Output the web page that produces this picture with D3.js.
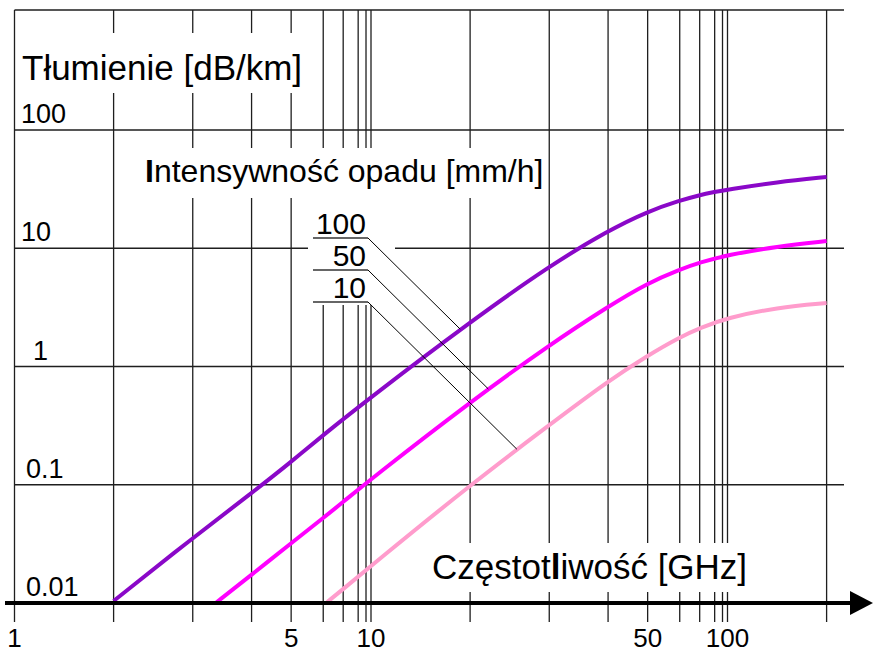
<!DOCTYPE html>
<html>
<head>
<meta charset="utf-8">
<script src="https://cdn.jsdelivr.net/npm/d3@7"></script>
<style>
  body { margin: 0; background: #fff; }
  svg { display: block; font-family: "Liberation Sans", Arial, sans-serif; }
</style>
</head>
<body>
<div class="chart"></div>
<script>
var svgWidth = 873;
var svgHeight = 653;

// frequency grid [GHz] and attenuation grid [dB/km]
var gridFreqs = [1, 2, 3, 4, 5, 6, 7, 8, 9, 10, 20, 30, 40, 50, 60, 70, 80, 90, 100, 200];
var freqTicks = [1, 5, 10, 50, 100];
var attTicks = [0.01, 0.1, 1, 10, 100];
var attTickLabels = ["0.01", "0.1", "1", "10", "100"];

// rain rates [mm/h]
var rainRates = ["100", "50", "10"];

// curve readings: frequency [GHz] -> attenuation [dB/km]
var freq100 = [2, 3, 4, 5, 6, 10, 20, 30, 40, 50, 60, 70, 80, 100, 150, 200];
var att100 = [0.0104, 0.0355, 0.085, 0.156, 0.264, 0.552, 2.38, 7.08, 14.1, 20.5, 25.3, 28.2, 29.9, 31.4, 36.3, 40.1];

var freq50 = [3.4, 4, 5, 6, 7, 10, 20, 30, 40, 50, 60, 70, 100, 150, 200];
var att50 = [0.0101, 0.0173, 0.0321, 0.0524, 0.0715, 0.112, 0.501, 1.52, 3.22, 5.08, 6.61, 7.57, 8.77, 10.35, 11.5];

var freq10 = [6.2, 7, 10, 20, 30, 40, 50, 60, 70, 100, 150, 200];
var att10 = [0.0102, 0.0131, 0.0206, 0.0995, 0.320, 0.753, 1.24, 1.77, 2.12, 2.58, 3.16, 3.44];

// points where the legend leaders touch each curve
var leaderFreq = [19, 22.3, 25.9];
var leaderAtt = [2.07, 0.646, 0.200];

var colors = ["#8a08c8", "#ff00ff", "#ff9ccc"];

// the printed grid is not a true log grid: position of 1..10 inside one decade
var decadeFrac = [0, 0.278, 0.5, 0.665, 0.776, 0.866, 0.922, 0.964, 0.986, 1];

function gridUnit(v) {
  var d = Math.floor(Math.log10(v) + 1e-9);
  var m = Math.round(v / Math.pow(10, d));
  return d + decadeFrac[m - 1];
}

var xWarp = d3.scaleLinear()
  .domain(gridFreqs)
  .range(gridFreqs.map(gridUnit));
var xPx = d3.scaleLinear().domain([0, 2]).range([14.5, 727.5]);
var x = function(v) { return xPx(xWarp(v)); };

var y = d3.scaleLog().domain([0.01, 100]).range([603, 130]);

var svg = d3.select(".chart")
  .append("svg")
  .attr("width", svgWidth)
  .attr("height", svgHeight);

var gridColor = "#1e1e1e";

// vertical grid
svg.append("g").selectAll("line")
  .data(gridFreqs)
  .enter()
  .append("line")
  .attr("x1", d => x(d))
  .attr("x2", d => x(d))
  .attr("y1", 10)
  .attr("y2", 622)
  .attr("stroke", gridColor)
  .attr("stroke-width", 1.3);

// horizontal grid + top border
svg.append("g").selectAll("line")
  .data(attTicks.slice(1))
  .enter()
  .append("line")
  .attr("x1", x(1))
  .attr("x2", 844)
  .attr("y1", d => y(d))
  .attr("y2", d => y(d))
  .attr("stroke", gridColor)
  .attr("stroke-width", 1.3);

svg.append("line")
  .attr("x1", x(1)).attr("x2", 844)
  .attr("y1", 10).attr("y2", 10)
  .attr("stroke", gridColor)
  .attr("stroke-width", 1.3);

// white patches behind the labels
var patches = [
  [18, 33, 292, 60],
  [140, 148, 408, 50],
  [308, 198, 87, 107],
  [425, 543, 328, 49]
];
svg.append("g").selectAll("rect")
  .data(patches)
  .enter()
  .append("rect")
  .attr("x", d => d[0])
  .attr("y", d => d[1])
  .attr("width", d => d[2])
  .attr("height", d => d[3])
  .attr("fill", "#fff");

// curves
var line = d3.line()
  .x(d => x(d[0]))
  .y(d => y(d[1]))
  .curve(d3.curveBasis);

var series = [
  d3.zip(freq100, att100),
  d3.zip(freq50, att50),
  d3.zip(freq10, att10)
];

svg.append("g").selectAll("path")
  .data(series)
  .enter()
  .append("path")
  .attr("d", line)
  .attr("fill", "none")
  .attr("stroke", (d, i) => colors[i])
  .attr("stroke-width", 4);

// x axis with arrow
svg.append("line")
  .attr("x1", 5).attr("x2", 856)
  .attr("y1", y(0.01)).attr("y2", y(0.01))
  .attr("stroke", "#000")
  .attr("stroke-width", 4);

svg.append("path")
  .attr("d", `M873,${y(0.01)} L850,${y(0.01) - 12} L850,${y(0.01) + 12} Z`)
  .attr("fill", "#000");

// tick labels
svg.append("g").selectAll("text")
  .data(freqTicks)
  .enter()
  .append("text")
  .attr("x", d => x(d))
  .attr("y", 647)
  .attr("text-anchor", "middle")
  .style("font-size", "26px")
  .text(d => d);

var yLabelX = [26, 26, 33, 21, 21];
svg.append("g").selectAll("text")
  .data(attTicks)
  .enter()
  .append("text")
  .attr("x", (d, i) => yLabelX[i])
  .attr("y", d => y(d) - 7)
  .style("font-size", "27px")
  .text((d, i) => attTickLabels[i]);

// axis titles
svg.append("text")
  .attr("x", 22)
  .attr("y", 80)
  .style("font-size", "35px")
  .text("Tłumienie [dB/km]");

var rainTitle = svg.append("text")
  .attr("x", 145)
  .attr("y", 182)
  .style("font-size", "32px");
rainTitle.append("tspan").attr("font-weight", "bold").text("I");
rainTitle.append("tspan").text("ntensywność opadu [mm/h]");

var freqTitle = svg.append("text")
  .attr("x", 432)
  .attr("y", 579)
  .style("font-size", "35px");
freqTitle.append("tspan").text("Częstot");
freqTitle.append("tspan").attr("font-weight", "bold").text("l");
freqTitle.append("tspan").text("iwość [GHz]");

// legend: rain rate labels with leader lines onto the curves
var legend = svg.append("g");
rainRates.forEach(function(r, i) {
  var ly = 238 + i * 32;
  legend.append("text")
    .attr("x", 366)
    .attr("y", ly - 4)
    .attr("text-anchor", "end")
    .style("font-size", "30px")
    .text(r);
  legend.append("line")
    .attr("x1", 313).attr("x2", 368)
    .attr("y1", ly).attr("y2", ly)
    .attr("stroke", "#333")
    .attr("stroke-width", 1.6);
  legend.append("line")
    .attr("x1", 368).attr("y1", ly)
    .attr("x2", x(leaderFreq[i]))
    .attr("y2", y(leaderAtt[i]))
    .attr("stroke", "#000")
    .attr("stroke-width", 1);
});
</script>
</body>
</html>
